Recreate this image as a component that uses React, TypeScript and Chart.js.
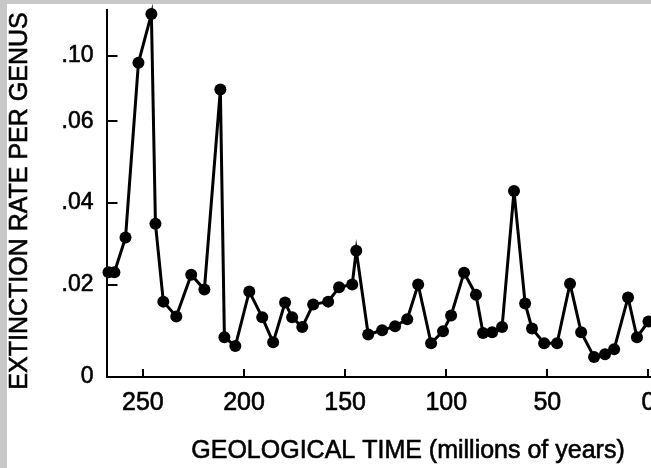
import React, { useEffect, useRef } from 'react';
import { Chart, LinearScale, registerables } from 'chart.js';

Chart.register(...registerables);

// ---- data (millions of years ago, extinction rate per genus) ----
const ages = [267.0, 264.1, 258.6, 252.2, 245.8, 243.8, 239.9, 233.5, 226.1, 219.6, 211.7, 209.7, 204.3, 197.4, 191.0, 185.6, 179.7, 176.2, 171.2, 165.8, 158.4, 153.0, 146.5, 144.5, 138.6, 131.7, 125.3, 119.3, 113.9, 107.5, 101.6, 97.6, 91.2, 85.3, 81.8, 77.3, 72.4, 66.5, 61.0, 57.6, 51.6, 45.2, 38.8, 33.3, 26.9, 21.5, 17.0, 10.1, 5.7, 0];
const rates = [0.023, 0.023, 0.0315, 0.0958, 0.1255, 0.0349, 0.0163, 0.0131, 0.0224, 0.0189, 0.0794, 0.0086, 0.0067, 0.0185, 0.0129, 0.0075, 0.0161, 0.0129, 0.0108, 0.0157, 0.0163, 0.0194, 0.0200, 0.0283, 0.0092, 0.0101, 0.0110, 0.0125, 0.0200, 0.0073, 0.0099, 0.0133, 0.0229, 0.0178, 0.0095, 0.0097, 0.0108, 0.0429, 0.0159, 0.0105, 0.0073, 0.0073, 0.0202, 0.0097, 0.0043, 0.0049, 0.0060, 0.0172, 0.0086, 0.0120];

const xTickValues = [250, 200, 150, 100, 50, 0];
const yTickValues = [0, 0.02, 0.04, 0.06, 0.10];
const yTickLabels = ['0', '.02', '.04', '.06', '.10'];

const xTitle = 'GEOLOGICAL TIME (millions of years)';
const yTitle = 'EXTINCTION RATE PER GENUS';

// the printed value axis is not uniform (compressed above .06)
const yBreakValues = [0, 0.02, 0.04, 0.06, 0.10, 0.128];
const yBreakFractions = [0, 0.252, 0.4743, 0.6965, 0.8753, 1];

const FONT = "'Liberation Sans', Arial, Helvetica, sans-serif";

function valueToFraction(v: number) {
  const n = yBreakValues.length;
  if (v <= yBreakValues[0]) {
    const s = (yBreakFractions[1] - yBreakFractions[0]) / (yBreakValues[1] - yBreakValues[0]);
    return yBreakFractions[0] + (v - yBreakValues[0]) * s;
  }
  for (let i = 1; i < n; i++) {
    if (v <= yBreakValues[i] || i === n - 1) {
      const t = (v - yBreakValues[i - 1]) / (yBreakValues[i] - yBreakValues[i - 1]);
      return yBreakFractions[i - 1] + t * (yBreakFractions[i] - yBreakFractions[i - 1]);
    }
  }
  return 1;
}
function fractionToValue(f: number) {
  const n = yBreakFractions.length;
  for (let i = 1; i < n; i++) {
    if (f <= yBreakFractions[i] || i === n - 1) {
      const t = (f - yBreakFractions[i - 1]) / (yBreakFractions[i] - yBreakFractions[i - 1]);
      return yBreakValues[i - 1] + t * (yBreakValues[i] - yBreakValues[i - 1]);
    }
  }
  return yBreakValues[n - 1];
}

class BrokenLinearScale extends LinearScale {
  static id = 'brokenLinear';
  static defaults = LinearScale.defaults;
  getPixelForValue(value: number) {
    return this.getPixelForDecimal(valueToFraction(value));
  }
  getValueForPixel(pixel: number) {
    return fractionToValue(this.getDecimalForPixel(pixel));
  }
}
Chart.register(BrokenLinearScale as any);

const axisTitles = {
  id: 'axisTitles',
  afterDraw(chart: any) {
    const ctx = chart.ctx;
    ctx.save();
    ctx.fillStyle = '#000';
    ctx.strokeStyle = '#000';
    ctx.lineWidth = 0.6;
    ctx.font = `25px ${FONT}`;
    ctx.textAlign = 'center';
    ctx.textBaseline = 'alphabetic';
    ctx.fillText(xTitle, 401, 454);
    ctx.strokeText(xTitle, 401, 454);
    ctx.translate(20, 197);
    ctx.rotate(-Math.PI / 2);
    ctx.fillText(yTitle, 0, 0);
    ctx.strokeText(yTitle, 0, 0);
    ctx.restore();
  },
};

export default function App() {
  const ref = useRef<HTMLCanvasElement>(null);
  useEffect(() => {
    if (!ref.current) return;
    const chart = new Chart(ref.current, {
      type: 'line',
      data: {
        datasets: [
          {
            data: ages.map((a, i) => ({ x: a, y: rates[i] })),
            borderColor: '#000',
            borderWidth: 3,
            backgroundColor: '#000',
            pointBackgroundColor: '#000',
            pointBorderWidth: 0,
            pointRadius: 6,
            tension: 0,
            clip: false as any,
          },
        ],
      },
      options: {
        responsive: false,
        animation: false,
        devicePixelRatio: 1,
        layout: { padding: { left: 0, right: 28.4, top: 4, bottom: 0 } },
        plugins: { legend: { display: false }, tooltip: { enabled: false } },
        scales: {
          x: {
            type: 'linear',
            reverse: true,
            min: -5,
            max: 268,
            afterBuildTicks: (s: any) => {
              s.ticks = xTickValues.map((v) => ({ value: v }));
            },
            afterFit: (s: any) => {
              s.height = 91;
              s.paddingLeft = 0;
              s.paddingRight = 0;
            },
            border: { display: true, color: '#000', width: 2 },
            grid: { drawOnChartArea: false, drawTicks: true, tickLength: -8, color: '#000', lineWidth: 2 },
            ticks: {
              padding: 19,
              color: '#000',
              textStrokeColor: '#000',
              textStrokeWidth: 0.6,
              font: { size: 25, family: FONT },
              maxRotation: 0,
              autoSkip: false,
              callback: (v: any) => String(v),
            },
          },
          y: {
            type: 'brokenLinear' as any,
            min: 0,
            max: 0.128,
            afterBuildTicks: (s: any) => {
              s.ticks = yTickValues.map((v) => ({ value: v }));
            },
            afterFit: (s: any) => {
              s.width = 99.5;
              s.paddingTop = 0;
              s.paddingBottom = 0;
            },
            border: { display: true, color: '#000', width: 2 },
            grid: { drawOnChartArea: false, drawTicks: true, tickLength: -11, color: '#000', lineWidth: 2 },
            ticks: {
              padding: 24,
              color: '#000',
              textStrokeColor: '#000',
              textStrokeWidth: 0.6,
              font: { size: 23, family: FONT },
              autoSkip: false,
              callback: (_v: any, i: number) => yTickLabels[i],
            },
          },
        },
      },
      plugins: [axisTitles],
    } as any);
    return () => chart.destroy();
  }, []);

  return (
    <div style={{ position: 'fixed', left: 0, top: 0, width: 651, height: 468, overflow: 'hidden', background: '#c8c8c8' }}>
      <div style={{ position: 'absolute', left: 7, top: 4, width: 680, height: 464, background: '#fff' }}>
        <canvas ref={ref} width={680} height={464} style={{ display: 'block' }} />
      </div>
    </div>
  );
}
